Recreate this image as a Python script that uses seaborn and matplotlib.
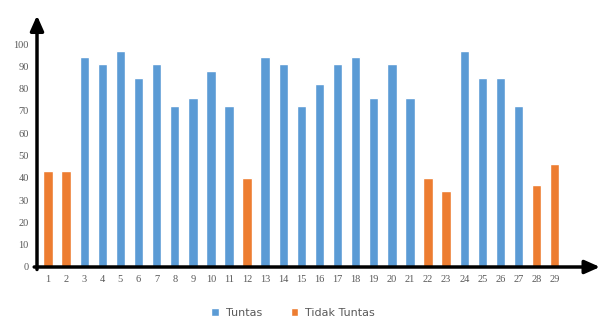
import pandas as pd
import matplotlib
matplotlib.use("Agg")
import matplotlib.pyplot as plt
import seaborn as sns

# data
siswa = list(range(1, 30))
nilai = [43, 43, 94, 91, 97, 85, 91, 72, 76, 88,
         72, 40, 94, 91, 72, 82, 91, 94, 76, 91,
         76, 40, 34, 97, 85, 85, 72, 37, 46]
status = ["Tidak Tuntas", "Tidak Tuntas", "Tuntas", "Tuntas", "Tuntas", "Tuntas", "Tuntas",
          "Tuntas", "Tuntas", "Tuntas", "Tuntas", "Tidak Tuntas", "Tuntas", "Tuntas",
          "Tuntas", "Tuntas", "Tuntas", "Tuntas", "Tuntas", "Tuntas", "Tuntas",
          "Tidak Tuntas", "Tidak Tuntas", "Tuntas", "Tuntas", "Tuntas", "Tuntas",
          "Tidak Tuntas", "Tidak Tuntas"]
y_ticks = list(range(0, 101, 10))

df = pd.DataFrame({"siswa": [str(s) for s in siswa], "nilai": nilai, "status": status})

sns.set_style("white")
fig = plt.figure(figsize=(6.06, 3.2), dpi=100)
ax = fig.add_axes([37 / 606, 1 - 267 / 320, (600 - 37) / 606, (267 - 18) / 320])

palette = {"Tuntas": "#5B9BD5", "Tidak Tuntas": "#ED7D31"}
sns.barplot(data=df, x="siswa", y="nilai", hue="status", hue_order=["Tuntas", "Tidak Tuntas"],
            palette=palette, dodge=False, width=0.52, saturation=1, ax=ax, legend=True)

ax.set_xlim(-0.61, 30.5)
ax.set_ylim(0, 111.7)
ax.set_yticks(y_ticks)
ax.set_xlabel("")
ax.set_ylabel("")
for s in ax.spines.values():
    s.set_visible(False)
ax.tick_params(axis="both", length=0, labelsize=7.5, colors="#595959", pad=6)
for lab in ax.get_xticklabels() + ax.get_yticklabels():
    lab.set_family("Liberation Serif")

# axis arrows
ax.annotate("", xy=(0, 1.01), xytext=(0, -0.01), xycoords="axes fraction",
            arrowprops=dict(arrowstyle="-|>,head_width=0.4,head_length=0.9", lw=2.5, color="black",
                            shrinkA=0, shrinkB=0), annotation_clip=False)
ax.annotate("", xy=(1.0, 0), xytext=(-0.005, 0), xycoords="axes fraction",
            arrowprops=dict(arrowstyle="-|>,head_width=0.4,head_length=0.9", lw=2.5, color="black",
                            shrinkA=0, shrinkB=0), annotation_clip=False)

leg = ax.legend(loc="center", bbox_to_anchor=((293 - 37) / 563, -0.185), ncol=2,
                frameon=False, fontsize=8, handlelength=0.7, handleheight=0.7, columnspacing=2.6,
                handletextpad=0.6)
for t in leg.get_texts():
    t.set_color("#595959")

fig.savefig("out.png", dpi=100)
